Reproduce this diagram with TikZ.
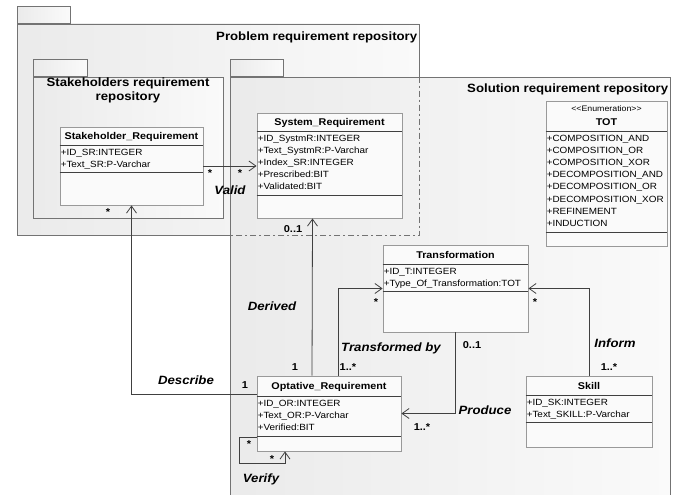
\documentclass[tikz,border=0pt]{standalone}
\usepackage{fontspec}
\setmainfont[FakeStretch=1.1]{Liberation Sans}
\usetikzlibrary{positioning,arrows.meta}

\begin{document}
\begin{tikzpicture}[x=1pt,y=-1pt,>={Straight Barb[length=7pt,width=10pt]},
                    font=\fontsize{9}{12.2}\selectfont]
  \tikzstyle{package}=[draw=black!55, line width=0.8pt, left color=black!8, right color=black!2, inner sep=0pt]
  \tikzstyle{pkgtab}=[package, minimum height=17pt, anchor=south west]
  \tikzstyle{pkgtitle}=[font=\fontsize{12}{14}\selectfont\bfseries, inner sep=0pt, text height=8.6pt, text depth=0pt]
  \tikzstyle{umlclass}=[draw=black!40, fill=black!2, line width=0.9pt, inner sep=0pt]
  \tikzstyle{clstitle}=[font=\fontsize{9.8}{12}\selectfont\bfseries, inner sep=0pt, text height=7pt, text depth=0pt]
  \tikzstyle{attrs}=[align=left, anchor=north west, inner sep=1pt]
  \tikzstyle{sepline}=[draw=black!75, line width=1pt]
  \tikzstyle{assoc}=[->, draw=black!75, line width=0.8pt]
  \tikzstyle{role}=[font=\fontsize{12}{14}\selectfont\bfseries\itshape, inner sep=0pt, text height=8.6pt, text depth=0pt]
  \tikzstyle{mult}=[font=\fontsize{10}{12}\selectfont\bfseries, inner sep=0pt, text height=7pt, text depth=0pt]

  \clip (0,0) rectangle (677,495);

  % packages
  \node[package, minimum width=402pt, minimum height=211pt] (prob) at (218,129.5) {};
  \node[pkgtab, minimum width=53pt] (probtab) at (prob.north west) {};
  \node[pkgtitle, anchor=east] (probtitle) at ([xshift=-2pt,yshift=-13pt]prob.north east) {Problem requirement repository};

  \node[package, minimum width=190pt, minimum height=141pt] (stake) at (128,147.5) {};
  \node[pkgtab, minimum width=54pt] (staketab) at (stake.north west) {};
  \node[pkgtitle, align=center] (staketitle) at (128,96) {Stakeholders requirement\\repository};

  \node[package, minimum width=440pt, minimum height=423pt] (sol) at (450,288.5) {};
  \node[pkgtab, minimum width=53pt] (soltab) at (sol.north west) {};
  \node[pkgtitle, anchor=east] (soltitle) at ([xshift=-2pt,yshift=-12pt]sol.north east) {Solution requirement repository};
  \draw[black!55, line width=0.8pt, dash pattern=on 6pt off 3pt on 2pt off 3pt]
       (prob.north east |- sol.north) -- (prob.south east) -- (prob.south east -| sol.west);

  % classes
  \node[umlclass, minimum width=143pt, minimum height=78pt] (sr) at (131.5,166) {};
  \node[clstitle] (srtitle) at ([yshift=-9.5pt]sr.north) {Stakeholder\_Requirement};
  \draw[sepline] ([yshift=-19pt]sr.north west) -- ([yshift=-19pt]sr.north east)
                 ([yshift=-46pt]sr.north west) -- ([yshift=-46pt]sr.north east);
  \node[attrs] (srattrs) at ([yshift=-21pt]sr.north west) {+ID\_SR:INTEGER\\+Text\_SR:P-Varchar};

  \node[umlclass, minimum width=145pt, minimum height=105pt] (sysreq) at (329.5,165.5) {};
  \node[clstitle] (sysreqtitle) at ([yshift=-9.5pt]sysreq.north) {System\_Requirement};
  \draw[sepline] ([yshift=-19pt]sysreq.north west) -- ([yshift=-19pt]sysreq.north east)
                 ([yshift=-83pt]sysreq.north west) -- ([yshift=-83pt]sysreq.north east);
  \node[attrs] (sysreqattrs) at ([yshift=-21pt]sysreq.north west)
       {+ID\_SystmR:INTEGER\\+Text\_SystmR:P-Varchar\\+Index\_SR:INTEGER\\+Prescribed:BIT\\+Validated:BIT};

  \node[umlclass, minimum width=121pt, minimum height=145pt] (tot) at (606.5,173.5) {};
  \node[inner sep=0pt, font=\fontsize{8}{10}\selectfont] (totstereo) at ([yshift=-8.5pt]tot.north) {<{}<Enumeration>{}>};
  \node[clstitle] (tottitle) at ([yshift=-21pt]tot.north) {TOT};
  \draw[sepline] ([yshift=-31pt]tot.north west) -- ([yshift=-31pt]tot.north east)
                 ([yshift=-132pt]tot.north west) -- ([yshift=-132pt]tot.north east);
  \node[attrs] (totattrs) at ([yshift=-33pt]tot.north west)
       {+COMPOSITION\_AND\\+COMPOSITION\_OR\\+COMPOSITION\_XOR\\+DECOMPOSITION\_AND\\
        +DECOMPOSITION\_OR\\+DECOMPOSITION\_XOR\\+REFINEMENT\\+INDUCTION};

  \node[umlclass, minimum width=145pt, minimum height=87pt] (trans) at (455.5,288.5) {};
  \node[clstitle] (transtitle) at ([yshift=-10pt]trans.north) {Transformation};
  \draw[sepline] ([yshift=-20pt]trans.north west) -- ([yshift=-20pt]trans.north east)
                 ([yshift=-47pt]trans.north west) -- ([yshift=-47pt]trans.north east);
  \node[attrs] (transattrs) at ([yshift=-22pt]trans.north west) {+ID\_T:INTEGER\\+Type\_Of\_Transformation:TOT};

  \node[umlclass, minimum width=144pt, minimum height=75pt] (opt) at (329,413.5) {};
  \node[clstitle] (opttitle) at ([yshift=-10pt]opt.north) {Optative\_Requirement};
  \draw[sepline] ([yshift=-21pt]opt.north west) -- ([yshift=-21pt]opt.north east)
                 ([yshift=-61pt]opt.north west) -- ([yshift=-61pt]opt.north east);
  \node[attrs] (optattrs) at ([yshift=-23pt]opt.north west) {+ID\_OR:INTEGER\\+Text\_OR:P-Varchar\\+Verified:BIT};

  \node[umlclass, minimum width=126pt, minimum height=71pt] (skill) at (589,411.5) {};
  \node[clstitle] (skilltitle) at ([yshift=-10pt]skill.north) {Skill};
  \draw[sepline] ([yshift=-20pt]skill.north west) -- ([yshift=-20pt]skill.north east)
                 ([yshift=-47pt]skill.north west) -- ([yshift=-47pt]skill.north east);
  \node[attrs] (skillattrs) at ([yshift=-22pt]skill.north west) {+ID\_SK:INTEGER\\+Text\_SKILL:P-Varchar};

  % associations
  \coordinate (verifyloop) at (239,463);
  \draw[assoc] (sr.east) -- (sr.east -| sysreq.west);
  \draw[assoc] ([yshift=19.5pt]opt.west) -| (sr.south);
  \draw[assoc] ([xshift=-17pt]opt.north) -- ([xshift=-17pt]sysreq.south);
  \draw[assoc] ([xshift=9pt]opt.north) |- (trans.west);
  \draw[assoc] (trans.south) |- (opt.east);
  \draw[assoc] (skill.north) |- (trans.east);
  \draw[assoc] ([yshift=-23.5pt]opt.west) -| (verifyloop) -| ([xshift=-44pt]opt.south);

  % roles and multiplicities
  \node[role] (valid)     at (230,190) {Valid};
  \node[mult] (validsrc)  at (210,173) {*};
  \node[mult] (validdst)  at (240,173) {*};
  \node[role] (describe)  at (186,380) {Describe};
  \node[mult] (descsrc)   at (245,385) {1};
  \node[mult] (descdst)   at (108,212) {*};
  \node[role] (derived)   at (272,306) {Derived};
  \node[mult] (dersrc)    at (295,367) {1};
  \node[mult] (derdst)    at (293,229) {0..1};
  \node[role] (transby)   at (391,347) {Transformed by};
  \node[mult] (transsrc)  at (348,367) {1..*};
  \node[mult] (transdst)  at (376,302) {*};
  \node[role] (produce)   at (485,410) {Produce};
  \node[mult] (prodsrc)   at (472,345) {0..1};
  \node[mult] (proddst)   at (422,427) {1..*};
  \node[role] (inform)    at (615,343) {Inform};
  \node[mult] (infsrc)    at (609,367) {1..*};
  \node[mult] (infdst)    at (535,302) {*};
  \node[role] (verify)    at (261,478) {Verify};
  \node[mult] (versrc)    at (249,444) {*};
  \node[mult] (verdst)    at (272,459) {*};

\end{tikzpicture}
\end{document}
